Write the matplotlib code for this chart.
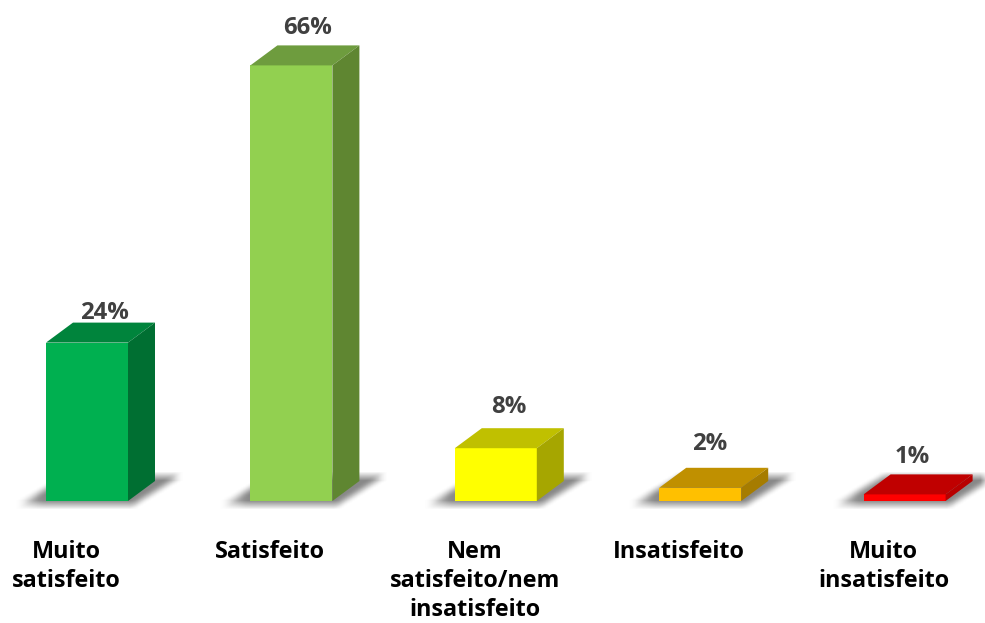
import numpy as np
from matplotlib import pyplot as plt
from matplotlib.path import Path
from matplotlib.patches import Polygon

# survey answers
categories = ['Muito\nsatisfeito', 'Satisfeito', 'Nem\nsatisfeito/nem\ninsatisfeito',
              'Insatisfeito', 'Muito\ninsatisfeito']
values = [24, 66, 8, 2, 1]
front_colors = ['#00B050', '#92D050', '#FFFF00', '#FFC000', '#FF0000']
top_colors = ['#00843C', '#6E9C3E', '#C0C000', '#C09000', '#C00000']
side_colors = ['#006F32', '#5F8631', '#A6A600', '#A67C00', '#B80000']
label_gaps = [10, 17, 21, 24, 17]
label_shifts = [17, 16, 13, 9, 8]

W, H = 985, 623
BASE = 501       # baseline row
X0 = 87          # first bar centre
STEP = 204.4     # px between bars
PX_Y = 6.6       # px per percent
BAR_W = 82 / STEP
DX = 27 / STEP   # depth of the fake 3d box
DY = 20 / PX_Y

fig = plt.figure(figsize=(W / 100, H / 100), dpi=100)
ax = fig.add_axes([0, 0, 1, 1])
ax.set_xlim(-X0 / STEP, (W - X0) / STEP)
ax.set_ylim(-(H - BASE) / PX_Y, BASE / PX_Y)
ax.axis('off')


def blur(a, r):
    k = np.ones(r) / r
    a = np.apply_along_axis(lambda v: np.convolve(v, k, mode='same'), 0, a)
    a = np.apply_along_axis(lambda v: np.convolve(v, k, mode='same'), 1, a)
    return a


# soft floor shadows, one mask for all bars
xs = np.linspace(*ax.get_xlim(), W)
ys = np.linspace(*ax.get_ylim(), H)
gx, gy = np.meshgrid(xs, ys)
pts = np.column_stack([gx.ravel(), gy.ravel()])
mask = np.zeros(gx.shape)
for i in range(len(values)):
    l = i - BAR_W / 2
    r = i + BAR_W / 2
    shadow = Path([(l - 0.14, -0.7), (r + 0.02, -0.7), (r + 0.25, 3.7), (l + 0.10, 3.7)])
    m = shadow.contains_points(pts).reshape(gx.shape).astype(float)
    # fade out towards the left end of the shadow
    m *= np.clip((gx - (l - 0.17)) / 0.15, 0.1, 1)
    mask += m
mask = blur(mask, 9) * 0.8
rgba = np.zeros((H, W, 4))
rgba[..., :3] = 0.42
rgba[..., 3] = np.clip(mask, 0, 1)
ax.imshow(rgba, extent=[*ax.get_xlim(), *ax.get_ylim()], origin='lower',
          aspect='auto', zorder=1)

for i, v in enumerate(values):
    l = i - BAR_W / 2
    r = i + BAR_W / 2
    ax.add_patch(Polygon([(l, 0), (r, 0), (r, v), (l, v)], fc=front_colors[i], ec='none', zorder=3))
    ax.add_patch(Polygon([(l, v), (r, v), (r + DX, v + DY), (l + DX, v + DY)],
                         fc=top_colors[i], ec='none', zorder=3))
    ax.add_patch(Polygon([(r, 0), (r + DX, DY), (r + DX, v + DY), (r, v)],
                         fc=side_colors[i], ec='none', zorder=3))
    ax.text(i + label_shifts[i] / STEP, v + DY + label_gaps[i] / PX_Y, f'{v}%', ha='center', va='center',
            family='Open Sans', weight='bold', fontsize=17.2, color='#404040', zorder=4)
    ax.text(i - 21 / STEP, -39 / PX_Y, categories[i], ha='center', va='top',
            family='Open Sans', weight='bold', fontsize=16.8, color='black',
            linespacing=1.27, zorder=4)

fig.savefig('out.png', dpi=100)
